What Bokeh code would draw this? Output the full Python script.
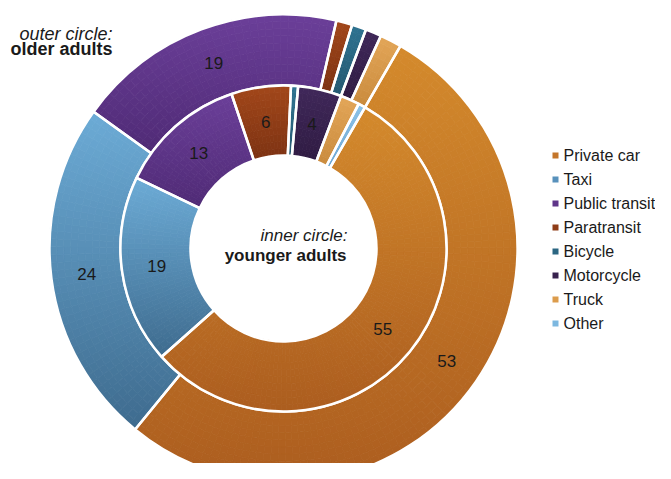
import math
from bokeh.plotting import figure
from bokeh.models import Range1d, ColumnDataSource
from bokeh.core.properties import value
from bokeh.embed import file_html
from bokeh.resources import INLINE

# ---------------- data ----------------
categories = ["Private car", "Taxi", "Public transit", "Paratransit",
              "Bicycle", "Motorcycle", "Truck", "Other"]
older_adults = [52.6, 24.0, 18.7, 1.1, 1.0, 1.1, 1.5, 0.0]     # outer circle (%)
younger_adults = [55.1, 18.7, 12.7, 5.9, 0.7, 4.3, 1.9, 0.7]   # inner circle (%)
colors_top = ["#D48A2C", "#6CABD6", "#6B3F99", "#A2471A",
              "#2F7391", "#40285A", "#E3A658", "#8CC3E8"]
colors_bottom = ["#AC5D1F", "#3E6B8E", "#4F2A75", "#7C3212",
                 "#245870", "#2F1B42", "#C98A3C", "#6AA3CF"]
colors_legend = ["#C4762A", "#5891BC", "#5F3589", "#8F3D17",
                 "#2B6682", "#38224E", "#DC9C4C", "#7DB8E0"]
outer_title = ["outer circle:", "older adults"]
inner_title = ["inner circle:", "younger adults"]

# ---------------- layout ----------------
W, H = 655, 463
FONT = "Liberation Sans"
first_slice = 30.0          # degrees, clockwise from 12 o'clock
cx, cy = 283, 479 - 248     # centre of the doughnut (y up)
r_hole, r_mid, r_out = 93, 163, 234

p = figure(width=W, height=H, output_backend="svg", toolbar_location=None,
           x_range=Range1d(0, W), y_range=Range1d(479 - H, 479),
           min_border=0)
p.axis.visible = False
p.grid.visible = False
p.outline_line_color = None
p.background_fill_color = "white"
p.border_fill_color = "white"


def hex2rgb(h):
    return tuple(int(h[i:i + 2], 16) for i in (1, 3, 5))


def lerp(c0, c1, t):
    a, b = hex2rgb(c0), hex2rgb(c1)
    return "#%02x%02x%02x" % tuple(int(round(a[i] + (b[i] - a[i]) * t)) for i in range(3))


def ring(vals, r0, r1):
    # gradient pieces
    ps, pe, pr0, pr1, pc = [], [], [], [], []
    # outlines
    starts, ends = [], []
    lx, ly, lt = [], [], []
    acc = first_slice
    rl = (r0 + r1) / 2
    nr = 10
    for i, v in enumerate(vals):
        a0 = acc
        a1 = acc + v * 3.6
        acc = a1
        if v <= 0:
            continue
        starts.append(math.radians(90 - a0))
        ends.append(math.radians(90 - a1))
        # vertical extent of slice
        ys = []
        n = max(2, int((a1 - a0) / 0.5))
        for k in range(n + 1):
            a = math.radians(a0 + (a1 - a0) * k / n)
            for r in (r0, r1):
                ys.append(cy + r * math.cos(a))
        ytop, ybot = max(ys), min(ys)
        na = max(1, int(math.ceil((a1 - a0) / 2.0)))
        for k in range(na):
            b0 = a0 + (a1 - a0) * k / na
            b1 = a0 + (a1 - a0) * (k + 1) / na
            bm = math.radians((b0 + b1) / 2)
            for j in range(nr):
                q0 = r0 + (r1 - r0) * j / nr
                q1 = r0 + (r1 - r0) * (j + 1) / nr
                yc = cy + (q0 + q1) / 2 * math.cos(bm)
                t = (ytop - yc) / (ytop - ybot) if ytop > ybot else 0.5
                ps.append(math.radians(90 - b0))
                pe.append(math.radians(90 - b1))
                pr0.append(q0)
                pr1.append(q1)
                pc.append(lerp(colors_top[i], colors_bottom[i], t))
        mid = math.radians((a0 + a1) / 2)
        if v >= 3:
            lx.append(cx + rl * math.sin(mid))
            ly.append(cy + rl * math.cos(mid))
            lt.append(f"{v:.0f}")
    src = ColumnDataSource(dict(start=ps, end=pe, r0=pr0, r1=pr1, color=pc))
    p.annular_wedge(x=cx, y=cy, inner_radius="r0", outer_radius="r1",
                    start_angle="start", end_angle="end", direction="clock",
                    fill_color="color", line_color="color", line_width=0.8,
                    source=src)
    osrc = ColumnDataSource(dict(start=starts, end=ends))
    p.annular_wedge(x=cx, y=cy, inner_radius=r0, outer_radius=r1,
                    start_angle="start", end_angle="end", direction="clock",
                    fill_color=None, line_color="white", line_width=2.5,
                    source=osrc)
    return lx, ly, lt


labels = [ring(older_adults, r_mid, r_out), ring(younger_adults, r_hole, r_mid)]
for lx, ly, lt in labels:
    p.text(x=lx, y=ly, text=lt, text_align="center", text_baseline="middle",
           text_font=value(FONT), text_font_size="17px", text_color="#1a1a1a")

# titles
p.text(x=[112], y=[479 - 33], text=[outer_title[0]], text_align="right",
       text_baseline="middle", text_font=value(FONT), text_font_size="18px",
       text_font_style="italic", text_color="#1a1a1a")
p.text(x=[112], y=[479 - 48], text=[outer_title[1]], text_align="right",
       text_baseline="middle", text_font=value(FONT), text_font_size="18px",
       text_font_style="bold", text_color="#1a1a1a")
p.text(x=[347], y=[479 - 235], text=[inner_title[0]], text_align="right",
       text_baseline="middle", text_font=value(FONT), text_font_size="17px",
       text_font_style="italic", text_color="#1a1a1a")
p.text(x=[346], y=[479 - 255], text=[inner_title[1]], text_align="right",
       text_baseline="middle", text_font=value(FONT), text_font_size="17px",
       text_font_style="bold", text_color="#1a1a1a")

# legend
lgy = [479 - (155 + 24 * i) for i in range(len(categories))]
p.rect(x=[555] * len(categories), y=lgy, width=6, height=6,
       fill_color=colors_legend, line_color=None)
p.text(x=[563] * len(categories), y=lgy, text=categories, text_align="left",
       text_baseline="middle", text_font=value(FONT), text_font_size="16px",
       text_color="#1a1a1a")

open("out.html", "w").write(file_html(p, INLINE))
